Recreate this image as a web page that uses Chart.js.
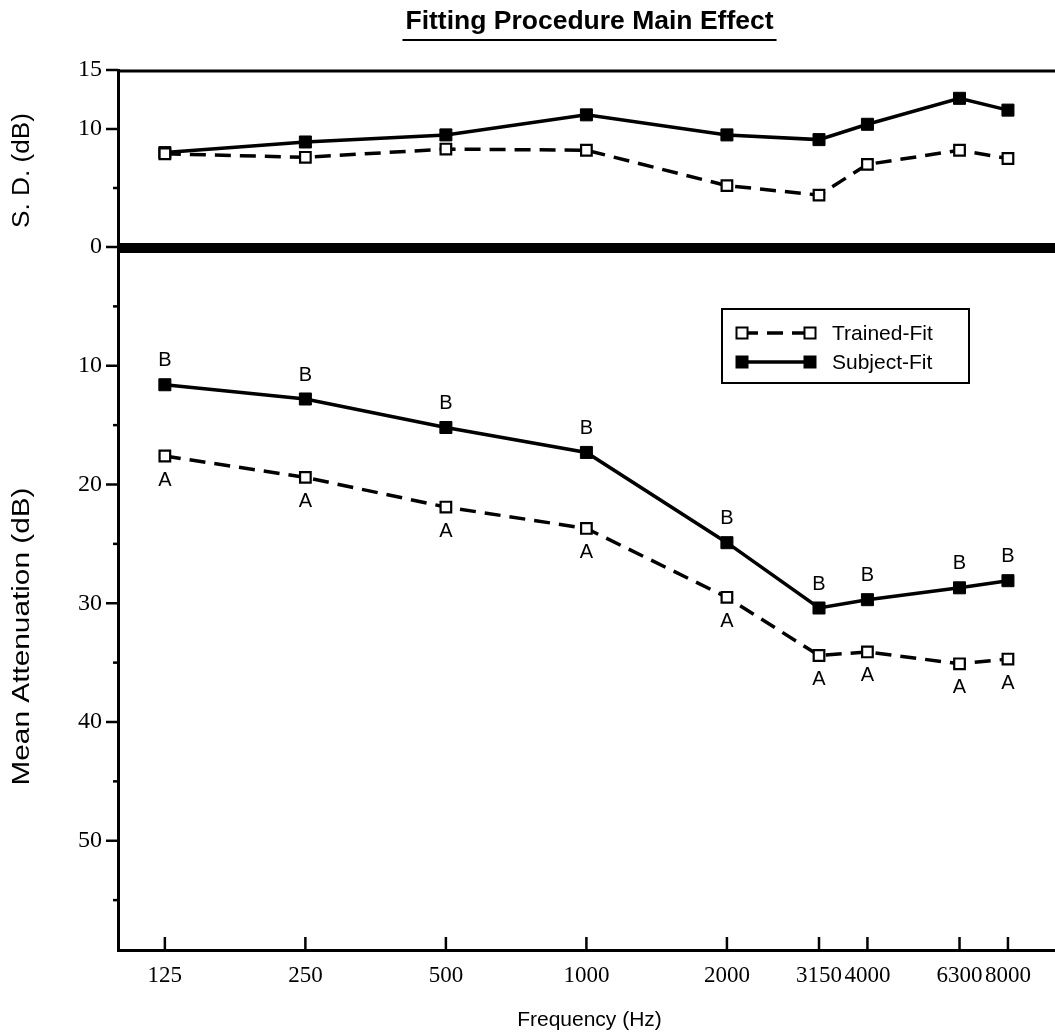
<!DOCTYPE html>
<html><head><meta charset="utf-8">
<script src="https://cdn.jsdelivr.net/npm/chart.js@4/dist/chart.umd.min.js"></script>
<style>html,body{margin:0;padding:0;background:#fff;}#wrap{width:1055px;height:1036px;position:relative}</style>
</head><body><div id="wrap"><canvas id="c" width="1055" height="1036"></canvas></div>
<script>
// ---- data ----
const frequencies = [125, 250, 500, 1000, 2000, 3150, 4000, 6300, 8000];
const freqTickLabels = ['125', '250', '500', '1000', '2000', '3150', '4000', '6300', '8000'];
const sdTrained = [7.9, 7.6, 8.3, 8.2, 5.2, 4.4, 7.0, 8.2, 7.5];
const sdSubject = [8.0, 8.9, 9.5, 11.2, 9.5, 9.1, 10.4, 12.6, 11.6];
const attTrained = [17.6, 19.4, 21.9, 23.7, 29.5, 34.4, 34.1, 35.1, 34.7];
const attSubject = [11.6, 12.8, 15.2, 17.3, 24.9, 30.4, 29.7, 28.7, 28.1];
const lettersTrained = ['A', 'A', 'A', 'A', 'A', 'A', 'A', 'A', 'A'];
const lettersSubject = ['B', 'B', 'B', 'B', 'B', 'B', 'B', 'B', 'B'];
const sdTickLabels = [0, 10, 15];
const sdMinorTicks = [5];
const attTickLabels = [10, 20, 30, 40, 50];
const attMinorTicks = [5, 15, 25, 35, 45, 55];
const seriesNames = ['Trained-Fit', 'Subject-Fit'];
const chartTitle = 'Fitting Procedure Main Effect';
const sdTitle = 'S. D. (dB)';
const attTitle = 'Mean Attenuation (dB)';
const xTitle = 'Frequency (Hz)';

const pts = (ys) => frequencies.map((f, i) => ({x: f, y: ys[i]}));
const SANS = '"Liberation Sans", Arial, sans-serif';
const SERIF = '"Liberation Serif", "Times New Roman", serif';

const trainedStyle = {borderColor: '#000', borderWidth: 3.5, borderDash: [16, 9], pointStyle: 'rect',
  pointRadius: 7.5, pointBackgroundColor: '#fff', pointBorderColor: '#000', pointBorderWidth: 2.2, fill: false, tension: 0};
const subjectStyle = {borderColor: '#000', borderWidth: 3.5, pointStyle: 'rect',
  pointRadius: 8.5, pointBackgroundColor: '#000', pointBorderColor: '#000', pointBorderWidth: 1, fill: false, tension: 0};

const decor = {
  id: 'decor',
  afterDraw(chart) {
    const ctx = chart.ctx, area = chart.chartArea;
    const xs = chart.scales.x, ySD = chart.scales.ySD, yAtt = chart.scales.yAtt;
    ctx.save();
    ctx.strokeStyle = '#000'; ctx.fillStyle = '#000'; ctx.setLineDash([]);
    // top border of upper panel
    ctx.lineWidth = 3;
    ctx.beginPath(); ctx.moveTo(area.left, area.top + 1); ctx.lineTo(area.right, area.top + 1); ctx.stroke();
    // thick divider at S.D. = 0
    const y0 = ySD.getPixelForValue(0) + 1;
    ctx.lineWidth = 10;
    ctx.beginPath(); ctx.moveTo(area.left, y0); ctx.lineTo(area.right, y0); ctx.stroke();
    // x tick marks (inside)
    ctx.lineWidth = 2.5;
    frequencies.forEach(f => {
      const px = xs.getPixelForValue(f);
      ctx.beginPath(); ctx.moveTo(px, area.bottom); ctx.lineTo(px, area.bottom - 13); ctx.stroke();
    });
    // y tick marks
    const yTick = (scale, v, len) => {
      const py = scale.getPixelForValue(v);
      ctx.beginPath(); ctx.moveTo(area.left - len, py); ctx.lineTo(area.left, py); ctx.stroke();
    };
    sdTickLabels.forEach(v => yTick(ySD, v, 12));
    sdMinorTicks.forEach(v => yTick(ySD, v, 5));
    attTickLabels.forEach(v => yTick(yAtt, v, 12));
    attMinorTicks.forEach(v => yTick(yAtt, v, 5));
    // significance letters
    ctx.font = '20px ' + SANS;
    ctx.textAlign = 'center'; ctx.textBaseline = 'middle';
    frequencies.forEach((f, i) => {
      const px = xs.getPixelForValue(f);
      ctx.fillText(lettersSubject[i], px, yAtt.getPixelForValue(attSubject[i]) - 24);
      ctx.fillText(lettersTrained[i], px, yAtt.getPixelForValue(attTrained[i]) + 24);
    });
    // title
    ctx.font = 'bold 26.5px ' + SANS;
    const tx = (area.left + area.right) / 2 + 3;
    ctx.fillText(chartTitle, tx, 22);
    const tw = ctx.measureText(chartTitle).width;
    ctx.lineWidth = 2;
    ctx.beginPath(); ctx.moveTo(tx - tw / 2 - 3, 40); ctx.lineTo(tx + tw / 2 + 3, 40); ctx.stroke();
    // axis titles
    ctx.font = '21px ' + SANS;
    ctx.fillText(xTitle, tx, 1020);
    const vTitle = (text, cy, len) => {
      ctx.save();
      ctx.font = '23px ' + SANS;
      const w = ctx.measureText(text).width;
      ctx.translate(23, cy); ctx.rotate(-Math.PI / 2);
      ctx.scale(len / w, 1);
      ctx.fillText(text, 0, 0);
      ctx.restore();
    };
    vTitle(sdTitle, (ySD.top + ySD.bottom) / 2 + 12, 115);
    vTitle(attTitle, (yAtt.top + yAtt.bottom) / 2 + 38, 298);
    // legend
    const lx = area.right - 333, ly = yAtt.top + 62, lw = 247, lh = 74;
    ctx.lineWidth = 2;
    ctx.strokeRect(lx, ly, lw, lh);
    const rows = [trainedStyle, subjectStyle];
    rows.forEach((st, r) => {
      const ry = ly + 24 + r * 29;
      const x1 = lx + 20, x2 = lx + 88;
      ctx.lineWidth = 3.5;
      ctx.setLineDash(st.borderDash || []);
      ctx.beginPath(); ctx.moveTo(x1, ry); ctx.lineTo(x2, ry); ctx.stroke();
      ctx.setLineDash([]);
      [x1, x2].forEach(px => {
        const s = 11;
        ctx.fillStyle = st.pointBackgroundColor;
        ctx.fillRect(px - s / 2, ry - s / 2, s, s);
        ctx.lineWidth = 2; ctx.strokeRect(px - s / 2, ry - s / 2, s, s);
      });
      ctx.fillStyle = '#000';
      ctx.textAlign = 'left';
      ctx.font = '21px ' + SANS;
      ctx.fillText(seriesNames[r], lx + 110, ry + 1);
    });
    ctx.restore();
  }
};

new Chart(document.getElementById('c'), {
  type: 'line',
  data: {
    datasets: [
      Object.assign({label: seriesNames[0] + ' SD', data: pts(sdTrained), xAxisID: 'x', yAxisID: 'ySD'}, trainedStyle),
      Object.assign({label: seriesNames[1] + ' SD', data: pts(sdSubject), xAxisID: 'x', yAxisID: 'ySD'}, subjectStyle),
      Object.assign({label: seriesNames[0], data: pts(attTrained), xAxisID: 'x', yAxisID: 'yAtt'}, trainedStyle),
      Object.assign({label: seriesNames[1], data: pts(attSubject), xAxisID: 'x', yAxisID: 'yAtt'}, subjectStyle)
    ]
  },
  options: {
    responsive: false, animation: false, devicePixelRatio: 1,
    layout: {autoPadding: false, padding: {top: 70, left: 0, right: 0, bottom: 0}},
    plugins: {legend: {display: false}, tooltip: {enabled: false}, title: {display: false}},
    scales: {
      x: {
        type: 'logarithmic', position: 'bottom', min: 99.2, max: 10090,
        afterBuildTicks: (s) => { s.ticks = frequencies.map(v => ({value: v})); },
        afterFit: (s) => { s.height = 86; s.paddingLeft = 0; s.paddingRight = 0; },
        ticks: {callback: (v, i) => freqTickLabels[i], autoSkip: false, maxRotation: 0, padding: 12,
          color: '#000', font: {family: SERIF, size: 23}},
        grid: {display: true, drawOnChartArea: false, drawTicks: false},
        border: {display: true, color: '#000', width: 3}
      },
      yAtt: {
        type: 'linear', position: 'left', stack: 'panels', stackWeight: 703, reverse: true,
        min: 0, max: 59.2,
        afterBuildTicks: (s) => { s.ticks = attTickLabels.map(v => ({value: v})); },
        afterFit: (s) => { s.width = 118; },
        ticks: {padding: 16, color: '#000', font: {family: SERIF, size: 24}},
        grid: {display: true, drawOnChartArea: false, drawTicks: false},
        border: {display: true, color: '#000', width: 3}
      },
      ySD: {
        type: 'linear', position: 'left', stack: 'panels', stackWeight: 177,
        min: 0, max: 15,
        afterBuildTicks: (s) => { s.ticks = sdTickLabels.map(v => ({value: v})); },
        afterFit: (s) => { s.width = 118; },
        ticks: {padding: 16, color: '#000', font: {family: SERIF, size: 24}},
        grid: {display: true, drawOnChartArea: false, drawTicks: false},
        border: {display: true, color: '#000', width: 3}
      }
    }
  },
  plugins: [decor]
});
</script></body></html>
